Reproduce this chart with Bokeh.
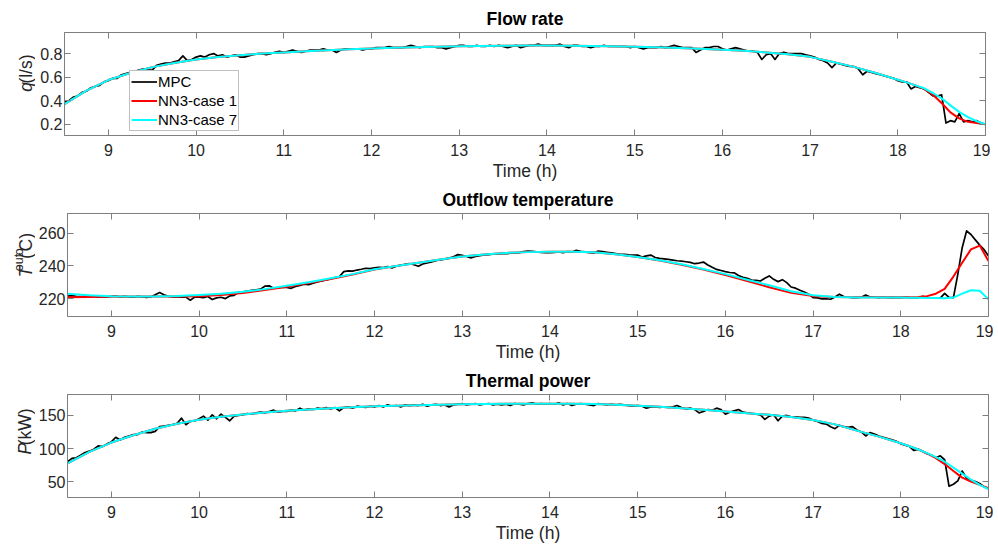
import math
from bokeh.plotting import figure
from bokeh.models import LinearAxis, FixedTicker, Range1d, Legend, LegendItem
from bokeh.layouts import column, row
from bokeh.embed import file_html
from bokeh.resources import INLINE
from bokeh.core.properties import value

# ---------------- data ----------------
hour_ticks = [9, 10, 11, 12, 13, 14, 15, 16, 17, 18, 19]

t_mpc = [
    8.50, 8.55, 8.60, 8.65, 8.70, 8.75, 8.80, 8.85, 8.90, 8.95,
    9.00, 9.05, 9.10, 9.15, 9.20, 9.25, 9.30, 9.35, 9.40, 9.45,
    9.50, 9.55, 9.60, 9.65, 9.70, 9.75, 9.80, 9.85, 9.90, 9.95,
    10.00, 10.05, 10.10, 10.15, 10.20, 10.25, 10.30, 10.35, 10.40, 10.45,
    10.50, 10.55, 10.60, 10.65, 10.70, 10.75, 10.80, 10.85, 10.90, 10.95,
    11.00, 11.05, 11.10, 11.15, 11.20, 11.25, 11.30, 11.35, 11.40, 11.45,
    11.50, 11.55, 11.60, 11.65, 11.70, 11.75, 11.80, 11.85, 11.90, 11.95,
    12.00, 12.05, 12.10, 12.15, 12.20, 12.25, 12.30, 12.35, 12.40, 12.45,
    12.50, 12.55, 12.60, 12.65, 12.70, 12.75, 12.80, 12.85, 12.90, 12.95,
    13.00, 13.05, 13.10, 13.15, 13.20, 13.25, 13.30, 13.35, 13.40, 13.45,
    13.50, 13.55, 13.60, 13.65, 13.70, 13.75, 13.80, 13.85, 13.90, 13.95,
    14.00, 14.05, 14.10, 14.15, 14.20, 14.25, 14.30, 14.35, 14.40, 14.45,
    14.50, 14.55, 14.60, 14.65, 14.70, 14.75, 14.80, 14.85, 14.90, 14.95,
    15.00, 15.05, 15.10, 15.15, 15.20, 15.25, 15.30, 15.35, 15.40, 15.45,
    15.50, 15.55, 15.60, 15.65, 15.70, 15.75, 15.80, 15.85, 15.90, 15.95,
    16.00, 16.05, 16.10, 16.15, 16.20, 16.25, 16.30, 16.35, 16.40, 16.45,
    16.50, 16.55, 16.60, 16.65, 16.70, 16.75, 16.80, 16.85, 16.90, 16.95,
    17.00, 17.05, 17.10, 17.15, 17.20, 17.25, 17.30, 17.35, 17.40, 17.45,
    17.50, 17.55, 17.60, 17.65, 17.70, 17.75, 17.80, 17.85, 17.90, 17.95,
    18.00, 18.05, 18.10, 18.15, 18.20, 18.25, 18.30, 18.35, 18.40, 18.45,
    18.50, 18.55, 18.60, 18.65, 18.70, 18.75, 18.80, 18.85, 18.90, 18.95,
    19.00,
]

q_mpc = [
    0.39, 0.40, 0.43, 0.44, 0.47, 0.48, 0.51, 0.52, 0.53, 0.56,
    0.57, 0.59, 0.59, 0.62, 0.63, 0.64, 0.65, 0.66, 0.67, 0.66,
    0.66, 0.70, 0.71, 0.72, 0.72, 0.73, 0.74, 0.78, 0.74, 0.75,
    0.77, 0.78, 0.77, 0.79, 0.80, 0.78, 0.79, 0.77, 0.78, 0.79,
    0.77, 0.77, 0.78, 0.79, 0.80, 0.80, 0.79, 0.80, 0.81, 0.82,
    0.81, 0.82, 0.83, 0.82, 0.81, 0.82, 0.83, 0.83, 0.83, 0.84,
    0.83, 0.83, 0.81, 0.83, 0.84, 0.84, 0.84, 0.84, 0.83, 0.84,
    0.84, 0.85, 0.85, 0.85, 0.86, 0.85, 0.85, 0.85, 0.86, 0.87,
    0.86, 0.85, 0.86, 0.86, 0.86, 0.85, 0.85, 0.84, 0.85, 0.86,
    0.87, 0.87, 0.86, 0.86, 0.87, 0.86, 0.86, 0.87, 0.86, 0.87,
    0.86, 0.85, 0.86, 0.87, 0.85, 0.86, 0.87, 0.87, 0.88, 0.87,
    0.87, 0.87, 0.87, 0.88, 0.86, 0.85, 0.87, 0.87, 0.86, 0.86,
    0.85, 0.86, 0.86, 0.87, 0.86, 0.86, 0.86, 0.86, 0.86, 0.85,
    0.86, 0.85, 0.84, 0.85, 0.85, 0.85, 0.86, 0.85, 0.86, 0.87,
    0.86, 0.85, 0.85, 0.85, 0.81, 0.83, 0.85, 0.85, 0.86, 0.86,
    0.84, 0.83, 0.84, 0.85, 0.84, 0.83, 0.82, 0.82, 0.81, 0.75,
    0.79, 0.80, 0.75, 0.80, 0.81, 0.80, 0.80, 0.80, 0.80, 0.79,
    0.78, 0.77, 0.75, 0.74, 0.72, 0.68, 0.72, 0.71, 0.70, 0.69,
    0.69, 0.67, 0.62, 0.65, 0.64, 0.63, 0.62, 0.61, 0.60, 0.59,
    0.57, 0.56, 0.56, 0.50, 0.52, 0.51, 0.50, 0.47, 0.44, 0.44,
    0.45, 0.21, 0.23, 0.22, 0.29, 0.22, 0.23, 0.22, 0.23, 0.21,
    0.20,
]

T_mpc = [
    221.5, 221.8, 221.4, 221.2, 221.4, 221.0, 221.3, 220.9, 221.2, 221.0,
    221.3, 221.5, 221.0, 221.3, 221.0, 220.8, 221.3, 221.0, 220.7, 221.0,
    222.4, 223.7, 222.3, 221.4, 221.0, 221.2, 220.8, 220.9, 219.0, 221.0,
    220.8, 220.6, 221.3, 219.4, 220.4, 220.8, 220.0, 221.6, 222.0, 224.0,
    224.2, 224.6, 225.0, 225.4, 225.8, 227.6, 227.8, 226.4, 226.6, 227.0,
    226.8, 226.3, 227.5, 228.0, 228.8, 228.5, 229.5, 230.2, 230.8, 231.4,
    232.0, 232.9, 233.5, 236.5, 237.0, 236.8, 237.5, 238.0, 238.6, 238.4,
    238.8, 239.2, 239.0, 239.6, 238.8, 239.8, 240.6, 241.0, 241.4, 240.8,
    239.8, 241.2, 241.8, 242.5, 243.2, 243.8, 244.2, 244.8, 245.6, 247.0,
    246.6, 245.8, 245.0, 245.8, 246.4, 246.8, 247.0, 247.2, 247.4, 247.6,
    247.6, 247.8, 248.0, 248.2, 248.8, 249.2, 249.0, 248.6, 248.4, 248.2,
    248.2, 248.4, 248.6, 248.2, 248.8, 248.6, 249.6, 249.0, 248.6, 248.2,
    248.0, 249.2, 248.8, 248.4, 248.0, 247.6, 247.1, 247.2, 246.8, 246.6,
    246.7, 245.5, 246.2, 246.7, 245.2, 244.7, 244.4, 244.0, 243.6, 243.2,
    243.0, 242.6, 242.2, 241.4, 241.8, 242.4, 240.6, 239.2, 237.9, 237.2,
    236.5, 236.0, 235.8, 234.2, 233.0, 232.4, 231.4, 231.2, 230.8, 232.5,
    233.9, 231.8, 230.4, 231.6, 229.8, 227.1, 226.4, 225.1, 224.0, 222.7,
    220.6, 220.4, 219.8, 219.9, 219.6, 221.0, 222.7, 221.2, 220.8, 220.6,
    220.6, 220.8, 222.2, 221.0, 220.8, 220.6, 220.8, 220.6, 220.7, 220.6,
    220.6, 220.8, 220.6, 220.5, 220.6, 221.4, 220.6, 220.5, 220.4, 220.3,
    223.2, 220.8, 220.6, 234.9, 251.2, 261.5, 259.3, 256.0, 252.8, 250.0,
    246.1,
]

P_mpc = [
    80, 85, 86, 90, 94, 96, 99, 104, 103, 107,
    110, 117, 113, 117, 119, 121, 121, 125, 124, 124,
    126, 133, 134, 135, 136, 138, 146, 136, 141, 142,
    145, 149, 143, 151, 145, 152, 147, 142, 149, 150,
    151, 153, 152, 154, 155, 154, 156, 158, 155, 156,
    156, 158, 157, 161, 158, 160, 159, 161, 160, 162,
    160, 162, 157, 162, 163, 161, 164, 163, 162, 164,
    163, 165, 163, 166, 164, 165, 163, 166, 165, 166,
    165, 167, 164, 166, 167, 165, 166, 163, 166, 167,
    168, 166, 167, 168, 166, 167, 168, 166, 167, 166,
    167, 165, 168, 167, 166, 168, 169, 167, 168, 167,
    168, 167, 169, 166, 168, 165, 167, 168, 167, 166,
    165, 168, 167, 166, 167, 166, 167, 166, 165, 164,
    165, 164, 161, 163, 163, 162, 163, 162, 163, 165,
    162, 160, 161, 159, 154, 156, 159, 158, 161, 159,
    152, 155, 157, 159, 155, 154, 153, 152, 151, 144,
    149, 151, 142, 149, 150, 148, 148, 147, 147, 146,
    143, 141, 138, 137, 133, 130, 135, 133, 132, 133,
    128, 125, 119, 124, 122, 119, 117, 115, 113, 111,
    107, 105, 103, 97, 99, 96, 92, 90, 86, 89,
    83, 43, 46, 51, 66, 55, 52, 50, 47, 42,
    39,
]

t_nn = [
    8.5, 8.75, 9.0, 9.25, 9.5, 9.75, 10.0, 10.25, 10.5, 10.75,
    11.0, 11.25, 11.5, 11.75, 12.0, 12.25, 12.5, 12.75, 13.0, 13.25,
    13.5, 13.75, 14.0, 14.25, 14.5, 14.75, 15.0, 15.25, 15.5, 15.75,
    16.0, 16.25, 16.5, 16.75, 17.0, 17.25, 17.5, 17.75, 18.0,
    18.1, 18.2, 18.3, 18.4, 18.5, 18.6, 18.7, 18.8, 18.9, 19.0,
]

q_case1 = [
    0.37, 0.485, 0.575, 0.635, 0.685, 0.72, 0.75, 0.77, 0.785, 0.80,
    0.81, 0.82, 0.828, 0.836, 0.843, 0.849, 0.854, 0.858, 0.862, 0.865,
    0.867, 0.868, 0.868, 0.867, 0.865, 0.862, 0.858, 0.853, 0.847, 0.84,
    0.833, 0.823, 0.81, 0.795, 0.772, 0.73, 0.687, 0.635, 0.578,
    0.555, 0.53, 0.50, 0.45, 0.38, 0.30, 0.25, 0.22, 0.21, 0.20,
]
q_case7 = [
    0.37, 0.485, 0.575, 0.635, 0.685, 0.72, 0.75, 0.77, 0.785, 0.80,
    0.81, 0.82, 0.828, 0.836, 0.843, 0.849, 0.854, 0.858, 0.862, 0.865,
    0.867, 0.868, 0.868, 0.867, 0.865, 0.862, 0.858, 0.853, 0.847, 0.84,
    0.833, 0.823, 0.81, 0.795, 0.772, 0.73, 0.687, 0.635, 0.578,
    0.555, 0.53, 0.505, 0.465, 0.42, 0.36, 0.305, 0.26, 0.225, 0.20,
]

T_case1 = [
    220.8, 221.0, 221.2, 221.2, 221.2, 221.3, 221.5, 222.2, 223.4, 225.2,
    227.3, 229.5, 232.0, 234.8, 237.8, 240.0, 242.0, 244.0, 245.8, 247.0,
    248.0, 248.5, 248.8, 248.8, 248.4, 247.2, 245.5, 243.3, 240.8, 237.8,
    234.5, 230.8, 227.0, 223.5, 221.5, 220.9, 220.8, 220.8, 220.8,
    220.8, 220.9, 221.5, 223.0, 226.0, 233.5, 242.0, 250.2, 252.5, 243.0,
]
T_case7 = [
    223.0, 222.0, 221.5, 221.3, 221.3, 221.6, 222.2, 223.0, 224.2, 225.8,
    227.8, 230.0, 232.5, 235.0, 238.0, 240.0, 242.0, 244.0, 245.8, 247.0,
    248.0, 248.5, 248.8, 248.8, 248.4, 247.2, 245.5, 243.5, 241.0, 238.2,
    235.0, 231.5, 228.2, 224.5, 222.0, 221.0, 220.7, 220.6, 220.6,
    220.5, 220.5, 220.4, 220.3, 220.2, 220.6, 223.0, 225.1, 224.8, 219.5,
]

P_case1 = [
    77.5, 95.0, 109.0, 120.0, 130.0, 137.5, 143.5, 148.0, 151.5, 154.5,
    157.0, 159.0, 161.0, 162.5, 163.8, 164.8, 165.6, 166.3, 166.9, 167.3,
    167.6, 167.8, 167.8, 167.6, 167.2, 166.2, 164.8, 163.0, 161.0, 158.5,
    156.0, 153.5, 151.0, 147.5, 143.0, 136.5, 127.0, 118.0, 108.0,
    103.5, 98.5, 92.5, 85.5, 76.5, 66.0, 56.0, 50.0, 45.0, 40.0,
]
P_case7 = [
    77.5, 95.0, 109.0, 120.0, 130.0, 137.5, 143.5, 148.0, 151.5, 154.5,
    157.0, 159.0, 161.0, 162.5, 163.8, 164.8, 165.6, 166.3, 166.9, 167.3,
    167.6, 167.8, 167.8, 167.6, 167.2, 166.2, 164.8, 163.0, 161.0, 158.5,
    156.0, 153.5, 151.0, 147.5, 143.0, 136.5, 127.0, 118.0, 108.0,
    103.5, 98.5, 93.0, 87.0, 80.0, 71.0, 62.0, 53.0, 45.0, 38.5,
]

q_ticks = [0.2, 0.4, 0.6, 0.8]
T_ticks = [220, 240, 260]
P_ticks = [50, 100, 150]

series_names = ["MPC", "NN3-case 1", "NN3-case 7"]
series_colors = ["#000000", "#ff0000", "#00ffff"]
series_widths = [1.7, 2.0, 2.0]

# ---------------- style ----------------
FONT = "Liberation Sans"
TXT = "#262626"
BOX = "#7f7f7f"
FRAME_W, FRAME_H = 921, 103
LAB_W = 35          # width of the strip holding the rotated y labels
TICK_FS = "16px"
LAB_FS = 17.5
SUP_FS = 12.5

# Arial/Liberation advance widths (1/1000 em) for the y-label pieces
CW = {' ': 278, '(': 333, ')': 333, 'l': 222, '/': 278, 's': 500, 'q': 556,
      'P': 667, 'k': 500, 'W': 944, 'T': 611, 'o': 556, 'u': 556, 't': 278, 'C': 722}


def text_w(s, fs):
    return sum(CW[c] for c in s) / 1000.0 * fs


def style_axis(ax, ticks, labels=True, standoff=8):
    ax.ticker = FixedTicker(ticks=ticks)
    ax.major_tick_in = 6
    ax.major_tick_out = 0
    ax.minor_tick_in = 0
    ax.minor_tick_out = 0
    ax.minor_tick_line_color = None
    ax.axis_line_color = BOX
    ax.major_tick_line_color = BOX
    ax.axis_line_width = 1
    ax.major_label_text_font = FONT
    if labels:
        ax.major_label_text_color = TXT
        ax.major_label_text_font_size = TICK_FS
        ax.major_label_standoff = standoff
    else:
        ax.major_label_text_color = None
        ax.major_label_text_font_size = "0px"
        ax.major_label_standoff = 0


def make_panel(top, bottom, yr, yticks, title, ylabel_parts, ylab_x, ys):
    p = figure(frame_width=FRAME_W, frame_height=FRAME_H,
               x_range=Range1d(8.5, 19.0), y_range=Range1d(*yr),
               output_backend="svg", toolbar_location=None,
               min_border_left=64 - LAB_W, min_border_right=5, min_border_top=top,
               min_border_bottom=bottom, title=title)
    p.title.align = "center"
    p.title.text_font = FONT
    p.title.text_font_size = f"{LAB_FS}px"
    p.title.text_font_style = "bold"
    p.title.text_color = "#000000"
    p.title.standoff = 8
    p.xgrid.visible = False
    p.ygrid.visible = False
    p.outline_line_color = BOX
    p.outline_line_width = 1

    style_axis(p.xaxis[0], hour_ticks, standoff=8)
    p.xaxis[0].axis_label = "Time (h)"
    p.xaxis[0].axis_label_text_font = FONT
    p.xaxis[0].axis_label_text_font_size = f"{LAB_FS}px"
    p.xaxis[0].axis_label_text_font_style = "normal"
    p.xaxis[0].axis_label_text_color = TXT
    p.xaxis[0].axis_label_standoff = 2
    style_axis(p.yaxis[0], yticks, standoff=2)

    top_ax = LinearAxis()
    style_axis(top_ax, hour_ticks, labels=False)
    p.add_layout(top_ax, "above")
    right_ax = LinearAxis()
    style_axis(right_ax, yticks, labels=False)
    p.add_layout(right_ax, "right")

    renderers = []
    for (tx, yv), col, lw in zip(ys, series_colors, series_widths):
        r = p.line(tx, yv, line_color=col, line_width=lw, line_join="round")
        renderers.append(r)

    # strip on the left carrying the rotated, mixed-style y label
    H = top + FRAME_H + bottom
    lab = figure(width=LAB_W, height=H, x_range=Range1d(0, LAB_W), y_range=Range1d(0, H),
                 output_backend="svg", toolbar_location=None, title=None,
                 x_axis_location=None, y_axis_location=None, min_border=0)
    lab.xgrid.visible = False
    lab.ygrid.visible = False
    lab.outline_line_color = None
    total = sum(text_w(s, SUP_FS if sup else LAB_FS) for s, _, sup in ylabel_parts)
    pos = bottom + (FRAME_H - total) / 2.0
    for s, style, sup in ylabel_parts:
        fs = SUP_FS if sup else LAB_FS
        if s.startswith(" "):          # svg collapses leading blanks: advance instead
            pos += text_w(" ", fs)
            s = s[1:]
        lab.text(x=[ylab_x - (7 if sup else 0)], y=[pos], text=[s], angle=math.pi / 2,
                 text_font=value(FONT), text_font_size=value(f"{fs}px"),
                 text_font_style=value(style), text_color=value(TXT),
                 text_align=value("left"), text_baseline=value("alphabetic"))
        pos += text_w(s, fs)
    return lab, p, renderers


l1, p1, r1 = make_panel(32, 48, (0.104, 0.979), q_ticks, "Flow rate",
                        [("q", "italic", False), (" (l/s)", "normal", False)], 25.8,
                        [(t_mpc, q_mpc), (t_nn, q_case1), (t_nn, q_case7)])
l2, p2, r2 = make_panel(29, 48, (209.0, 272.2), T_ticks, "Outflow temperature",
                        [("T", "italic", False), ("out", "normal", True), (" (", "normal", False),
                         ("o", "normal", True), ("C)", "normal", False)], 25.8,
                        [(t_mpc, T_mpc), (t_nn, T_case1), (t_nn, T_case7)])
l3, p3, r3 = make_panel(29, 50, (25.9, 181.7), P_ticks, "Thermal power",
                        [("P", "italic", False), (" (kW)", "normal", False)], 24.5,
                        [(t_mpc, P_mpc), (t_nn, P_case1), (t_nn, P_case7)])

legend = Legend(items=[LegendItem(label=n, renderers=[r]) for n, r in zip(series_names, r1)],
                location=(65, 4), orientation="vertical")
legend.label_text_font = FONT
legend.label_text_font_size = "15px"
legend.label_text_color = "#000000"
legend.border_line_color = BOX
legend.border_line_width = 1
legend.background_fill_color = "white"
legend.background_fill_alpha = 1.0
legend.padding = 1
legend.spacing = 0
legend.margin = 0
legend.glyph_width = 26
legend.glyph_height = 19
legend.label_height = 19
legend.label_standoff = 1
p1.add_layout(legend)

layout = column(row(l1, p1, spacing=0), row(l2, p2, spacing=0), row(l3, p3, spacing=0), spacing=0)
open("out.html", "w").write(file_html(layout, INLINE))
